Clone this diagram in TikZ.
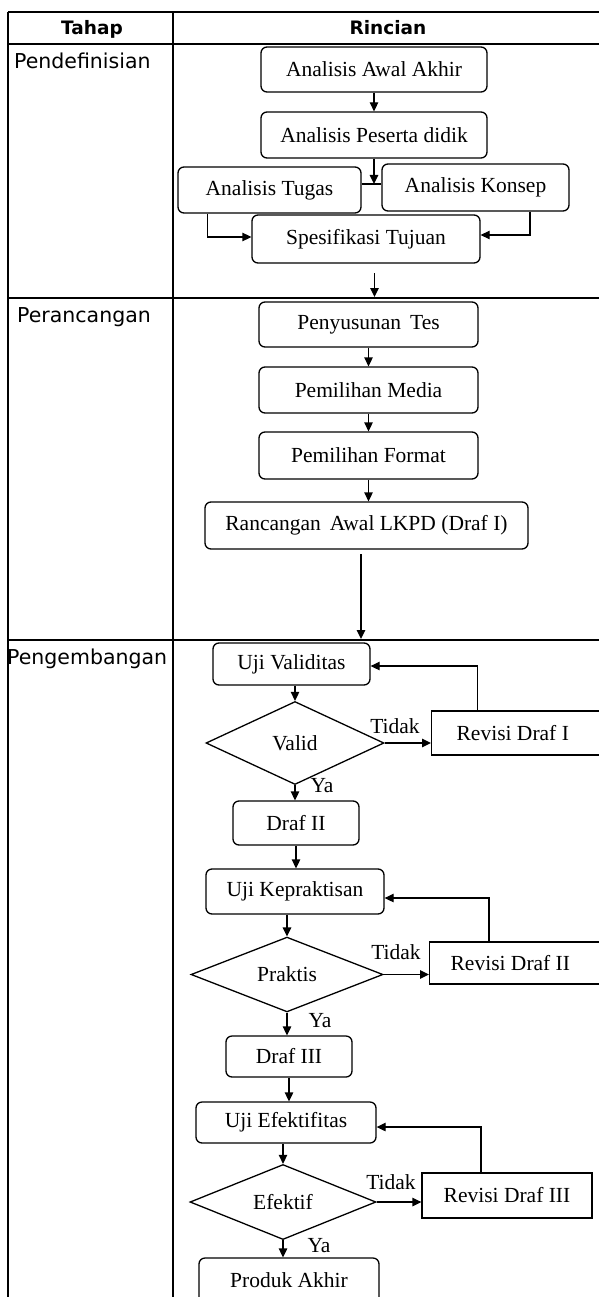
\documentclass[tikz,border=0pt]{standalone}
\usepackage{fontspec}
\setmainfont{Liberation Serif}
\newfontfamily\tabfont{DejaVu Sans}
\usetikzlibrary{shapes.geometric,arrows.meta}
\newcommand{\flowfnt}{\fontsize{21.5}{25}\selectfont}
\begin{document}
\begin{tikzpicture}[x=1pt,y=-1pt,
  tline/.style={line width=1.7pt},
  hdr/.style={inner sep=0pt, font=\tabfont\bfseries\fontsize{18.5}{21}\selectfont},
  sec/.style={inner sep=0pt, font=\tabfont\fontsize{20.5}{24}\selectfont},
  rbox/.style={draw, line width=1.3pt, rounded corners=6pt, inner sep=0pt, font=\flowfnt},
  sbox/.style={draw, line width=1.3pt, inner sep=0pt, font=\flowfnt},
  dbox/.style={draw, diamond, line width=1.3pt, inner sep=0pt, font=\flowfnt},
  conn/.style={line width=1.3pt},
  arr/.style={line width=1.3pt, -{Triangle[length=9pt,width=8.5pt]}},
  lbl/.style={inner sep=0pt, font=\flowfnt}]
\useasboundingbox (0,0) rectangle (599,1297);
\fill[white] (0,0) rectangle (599,1297);
\clip (0,0) rectangle (599,1297);
% table grid
\draw[tline] (8,12) -- (605,12);
\draw[tline] (8,44) -- (605,44);
\draw[tline] (8,298) -- (605,298);
\draw[tline] (8,640) -- (605,640);
\draw[tline] (8,12) -- (8,1300);
\draw[tline] (173,12) -- (173,1300);
% headers
\node[hdr, anchor=base] (h1) at (92,35) {Tahap};
\node[hdr, anchor=base] (h2) at (388,35) {Rincian};
\node[sec, anchor=base west] (s1) at (14,69) {Pendefinisian};
\node[sec, anchor=base west] (s2) at (17,322) {Perancangan};
\node[sec, anchor=base west] (s3) at (7,664) {Pengembangan};
% Pendefinisian
\node[rbox, minimum width=226pt, minimum height=45pt] (aaa) at (374,69.5) {Analisis Awal Akhir};
\node[rbox, minimum width=226pt, minimum height=46pt] (apd) at (374,135) {Analisis Peserta didik};
\node[rbox, minimum width=183pt, minimum height=46pt] (tugas) at (269.5,190) {Analisis Tugas};
\node[rbox, minimum width=187pt, minimum height=47pt] (konsep) at (475.5,187.5) {Analisis Konsep};
\node[rbox, minimum width=228pt, minimum height=48pt] (spes) at (366,239) {Spesifikasi Tujuan};
\coordinate (j) at (374,184);
\coordinate (c1) at (207.5,237);
\coordinate (c2) at (530,235);
\coordinate (sp1) at (374.5,273);
\coordinate (sp2) at (374.5,297);
\draw[arr] (aaa.south) -- (apd.north);
\draw[conn] (tugas.east |- j) -- (konsep.west |- j);
\draw[arr] (apd.south -| j) -- (j);
\draw[arr] (tugas.south -| c1) -- (c1) -- (c1 -| spes.west);
\draw[arr] (konsep.south -| c2) -- (c2) -- (c2 -| spes.east);
\draw[arr] (sp1) -- (sp2);
% Perancangan
\node[rbox, minimum width=219pt, minimum height=45pt] (tes) at (368.5,324.5) {Penyusunan\, Tes};
\node[rbox, minimum width=219pt, minimum height=46pt] (media) at (368.5,390) {Pemilihan Media};
\node[rbox, minimum width=219pt, minimum height=47pt] (format) at (368.5,455.5) {Pemilihan Format};
\node[rbox, minimum width=323pt, minimum height=47pt] (ranc) at (366.5,525.5) {Rancangan\, Awal LKPD (Draf I)};
\coordinate (r1) at (361,554);
\coordinate (r2) at (361,639);
\draw[arr] (tes.south) -- (media.north);
\draw[arr] (media.south) -- (format.north);
\draw[arr] (format.south) -- (format.south |- ranc.north);
\draw[arr] (r1) -- (r2);
% Pengembangan
\node[rbox, minimum width=157pt, minimum height=42pt] (uv) at (291.5,664) {Uji Validitas};
\node[dbox, minimum width=178pt, minimum height=83pt] (valid) at (295,743) {Valid};
\node[sbox, anchor=west, minimum height=44pt, text width=150pt, align=flush left, inner xsep=25pt] (rev1) at (431,733) {Revisi Draf I};
\node[rbox, minimum width=126pt, minimum height=44pt] (d2) at (296,823) {Draf II};
\node[rbox, minimum width=178pt, minimum height=45pt] (uk) at (295,891.5) {Uji Kepraktisan};
\node[dbox, minimum width=192pt, minimum height=73pt] (prak) at (287,974.5) {Praktis};
\node[sbox, anchor=west, minimum height=42pt, text width=150pt, align=flush left, inner xsep=21pt] (rev2) at (429,963) {Revisi Draf II};
\node[rbox, minimum width=126pt, minimum height=41pt] (d3) at (289,1056.5) {Draf III};
\node[rbox, minimum width=180pt, minimum height=41pt] (ue) at (286,1122.5) {Uji Efektifitas};
\node[dbox, minimum width=186pt, minimum height=72pt] (efek) at (283,1202) {Efektif};
\node[sbox, minimum width=170pt, minimum height=45pt] (rev3) at (507,1195.5) {Revisi Draf III};
\node[rbox, minimum width=180pt, minimum height=45pt] (prod) at (289,1280.5) {Produk Akhir};
% labels
\node[lbl] (t1) at (395,726) {Tidak};
\node[lbl] (t2) at (396,952) {Tidak};
\node[lbl] (t3) at (391,1182) {Tidak};
\node[lbl] (y1) at (322,786) {Ya};
\node[lbl] (y2) at (320,1021) {Ya};
\node[lbl] (y3) at (319,1246) {Ya};
% connectors
\draw[arr] (uv.south -| valid.north) -- (valid.north);
\draw[arr] (valid.east) -- (valid.east -| rev1.west);
\draw[arr] (valid.south) -- (valid.south |- d2.north);
\draw[arr] (d2.south) -- (d2.south |- uk.north);
\draw[arr] (uk.south -| prak.north) -- (prak.north);
\draw[arr] (prak.east) -- (prak.east -| rev2.west);
\draw[arr] (prak.south) -- (prak.south |- d3.north);
\draw[arr] (d3.south) -- (d3.south |- ue.north);
\draw[arr] (ue.south -| efek.north) -- (efek.north);
\draw[arr] (efek.east) -- (efek.east -| rev3.west);
\draw[arr] (efek.south) -- (efek.south |- prod.north);
\coordinate (f1) at (477.6,666);
\coordinate (f2) at (489,898);
\coordinate (f3) at (481,1127);
\draw[arr] (f1 |- rev1.north) -- (f1) -- (f1 -| uv.east);
\draw[arr] (f2 |- rev2.north) -- (f2) -- (f2 -| uk.east);
\draw[arr] (f3 |- rev3.north) -- (f3) -- (f3 -| ue.east);
\end{tikzpicture}
\end{document}
